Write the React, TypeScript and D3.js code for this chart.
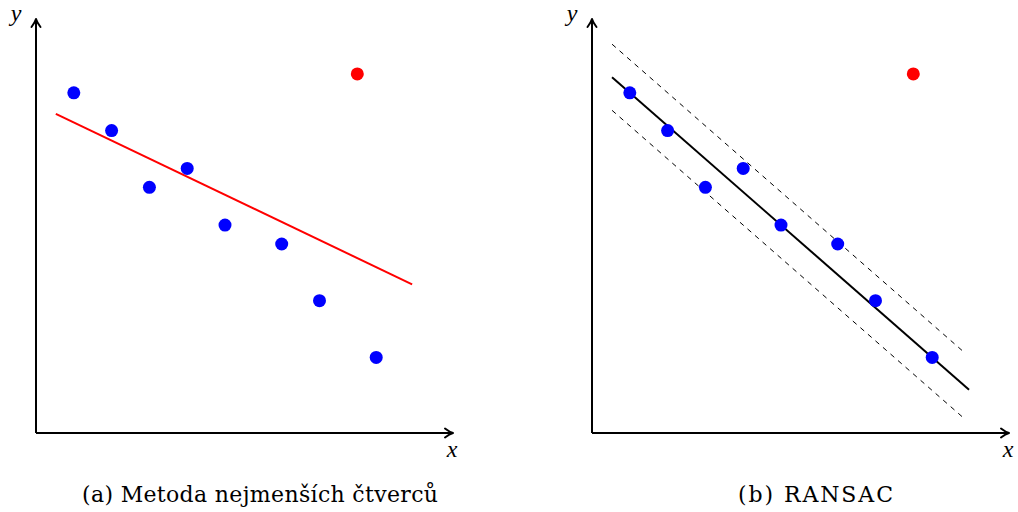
import * as d3 from 'd3';

// inlier points (blue) and the one outlier (red)
const pointX = [2, 4, 6, 8, 10, 13, 15, 18];
const pointY = [18, 16, 13, 14, 11, 10, 7, 4];
const outlier = [17, 19];

const captions = ['(a) Metoda nejmenších čtverců', '(b) RANSAC'];

// RANSAC model: line through two sampled inliers, plus a band of ±threshold
const ransacSample = [0, 7];
const threshold = 1.75;
const fitExtent = [1.06, 19.95];
const bandExtent = [1.06, 19.72];

const W = 1018;
const H = 512;
const axisLenX = 416;
const axisLenY = 413;
const unit = 18.9;

function Arrow({ x, y, angle }: { x: number; y: number; angle: number }) {
  return (
    <path
      d="M -7,-4.5 Q -2.5,-1 1,0 Q -2.5,1 -7,4.5"
      transform={`translate(${x},${y}) rotate(${angle})`}
      fill="none"
      stroke="#000"
      strokeWidth={2}
      strokeLinecap="round"
      strokeLinejoin="round"
    />
  );
}

function Panel({ ox, oy, kind }: { ox: number; oy: number; kind: 'ls' | 'ransac' }) {
  const x = d3.scaleLinear().domain([0, 1]).range([0, unit]);
  const y = d3.scaleLinear().domain([0, 1]).range([0, -unit]);
  const line = d3.line<[number, number]>().x(d => x(d[0])).y(d => y(d[1]));

  const pts = pointX.map((v, i) => [v, pointY[i]] as [number, number]);

  let fit: [number, number][] = [];
  let bands: [number, number][][] = [];
  if (kind === 'ls') {
    // ordinary least squares over all points, outlier included
    const all = [...pts, outlier as [number, number]];
    const mx = d3.mean(all, d => d[0])!;
    const my = d3.mean(all, d => d[1])!;
    const sxy = d3.sum(all, d => (d[0] - mx) * (d[1] - my));
    const sxx = d3.sum(all, d => (d[0] - mx) ** 2);
    const k = sxy / sxx;
    const f = (t: number) => my + k * (t - mx);
    fit = [[1.05, f(1.05)], [19.9, f(19.9)]];
  } else {
    const [a, b] = ransacSample.map(i => pts[i]);
    const k = (b[1] - a[1]) / (b[0] - a[0]);
    const f = (t: number) => a[1] + k * (t - a[0]);
    fit = fitExtent.map(t => [t, f(t)] as [number, number]);
    bands = [threshold, -threshold].map(o => bandExtent.map(t => [t, f(t) + o] as [number, number]));
  }

  return (
    <g transform={`translate(${ox},${oy})`}>
      <line x1={0} y1={0} x2={axisLenX} y2={0} stroke="#000" strokeWidth={2} />
      <line x1={0} y1={0} x2={0} y2={-axisLenY} stroke="#000" strokeWidth={2} />
      <Arrow x={axisLenX} y={0} angle={0} />
      <Arrow x={0} y={-axisLenY} angle={-90} />
      <text x={axisLenX} y={24} fontFamily="Liberation Serif" fontStyle="italic" fontSize={24} textAnchor="middle">x</text>
      <text x={-20} y={-412} fontFamily="Liberation Serif" fontStyle="italic" fontSize={24} textAnchor="middle">y</text>

      {bands.map((b, i) => (
        <path key={i} d={line(b)!} fill="none" stroke="#000" strokeWidth={1} strokeDasharray="5,5" />
      ))}
      <path d={line(fit)!} fill="none" stroke={kind === 'ls' ? '#ff0000' : '#000'} strokeWidth={2} />

      {pts.map((p, i) => (
        <circle key={i} cx={x(p[0])} cy={y(p[1])} r={6.5} fill="#0000ff" />
      ))}
      <circle cx={x(outlier[0])} cy={y(outlier[1])} r={6.5} fill="#ff0000" />
    </g>
  );
}

export default function App() {
  return (
    <svg width={W} height={H} style={{ position: 'absolute', left: 0, top: 0, background: '#fff' }}>
      <rect width={W} height={H} fill="#fff" />
      <Panel ox={36} oy={433} kind="ls" />
      <Panel ox={592} oy={433} kind="ransac" />
      <text x={82} y={502} fontFamily="DejaVu Serif" fontSize={22} textLength={356} lengthAdjust="spacing">{captions[0]}</text>
      <text x={738} y={502} fontFamily="DejaVu Serif" fontSize={22} textLength={155} lengthAdjust="spacing">{captions[1]}</text>
    </svg>
  );
}
